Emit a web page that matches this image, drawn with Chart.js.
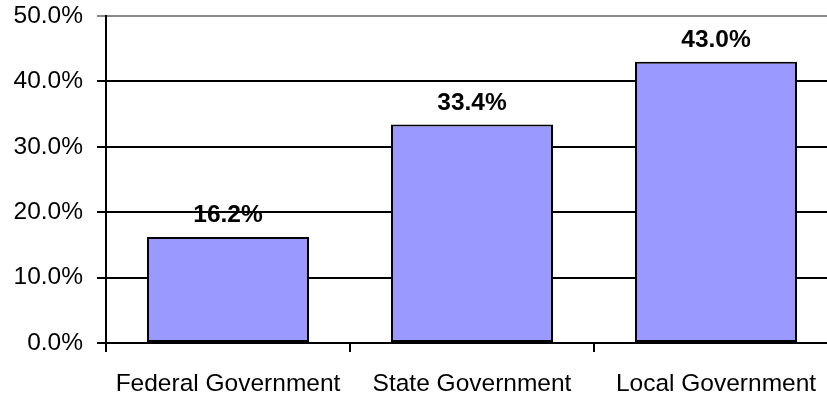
<!DOCTYPE html>
<html>
<head>
<meta charset="utf-8">
<script src="https://cdn.jsdelivr.net/npm/chart.js@4.4.1/dist/chart.umd.min.js"></script>
<style>
  html, body { margin: 0; padding: 0; background: #fff; overflow: hidden; }
  #wrap { width: 838px; height: 399px; }
</style>
</head>
<body>
<div id="wrap"><canvas id="myChart"></canvas></div>
<script>
// Share of spending by level of government
const categories = ['Federal Government', 'State Government', 'Local Government'];
const shares = [16.2, 33.4, 43.0];
const yTicks = [0, 10, 20, 30, 40, 50];

const fontFamily = '"Liberation Sans", Arial, sans-serif';
const fontSize = 24.5;

// Writes the value above each bar
const valueLabels = {
    id: 'valueLabels',
    afterDatasetsDraw(chart) {
        const ctx = chart.ctx;
        const meta = chart.getDatasetMeta(0);
        ctx.save();
        ctx.font = 'bold ' + fontSize + 'px ' + fontFamily;
        ctx.fillStyle = '#000';
        ctx.textAlign = 'center';
        ctx.textBaseline = 'alphabetic';
        meta.data.forEach((bar, i) => {
            ctx.fillText(shares[i].toFixed(1) + '%', bar.x, bar.y - 15);
        });
        ctx.restore();
    }
};

const ctx = document.getElementById('myChart').getContext('2d');
const myChart = new Chart(ctx, {
    type: 'bar',
    data: {
        labels: categories,
        datasets: [{
            data: shares,
            backgroundColor: '#9999FF',
            borderColor: '#000',
            borderWidth: 2,
            borderSkipped: false,
            barPercentage: 0.664,
            categoryPercentage: 1
        }]
    },
    options: {
        responsive: true,
        maintainAspectRatio: false,
        animation: false,
        layout: { padding: 0 },
        plugins: {
            legend: { display: false },
            tooltip: { enabled: false }
        },
        scales: {
            x: {
                afterFit(scale) {
                    scale.height = 56;
                    scale.paddingLeft = 0;
                    scale.paddingRight = 0;
                },
                grid: {
                    offset: true,
                    drawOnChartArea: false,
                    drawTicks: true,
                    tickLength: 9,
                    color: '#000',
                    lineWidth: 2
                },
                border: { color: '#000', width: 2 },
                ticks: {
                    color: '#000',
                    font: { family: fontFamily, size: fontSize },
                    padding: 18,
                    maxRotation: 0,
                    autoSkip: false
                }
            },
            y: {
                min: 0,
                max: 50,
                afterFit(scale) {
                    scale.width = 106;
                    scale.paddingTop = 16;
                    scale.paddingBottom = 0;
                },
                afterBuildTicks(scale) {
                    scale.ticks = yTicks.map(v => ({ value: v }));
                },
                grid: {
                    drawTicks: true,
                    tickLength: 9,
                    color: c => (c.tick && c.tick.value === 50 ? '#888' : '#000'),
                    lineWidth: 2
                },
                border: { color: '#000', width: 2 },
                ticks: {
                    color: '#000',
                    font: { family: fontFamily, size: fontSize },
                    padding: 14,
                    callback: v => v.toFixed(1) + '%'
                }
            }
        }
    },
    plugins: [valueLabels]
});
</script>
</body>
</html>
